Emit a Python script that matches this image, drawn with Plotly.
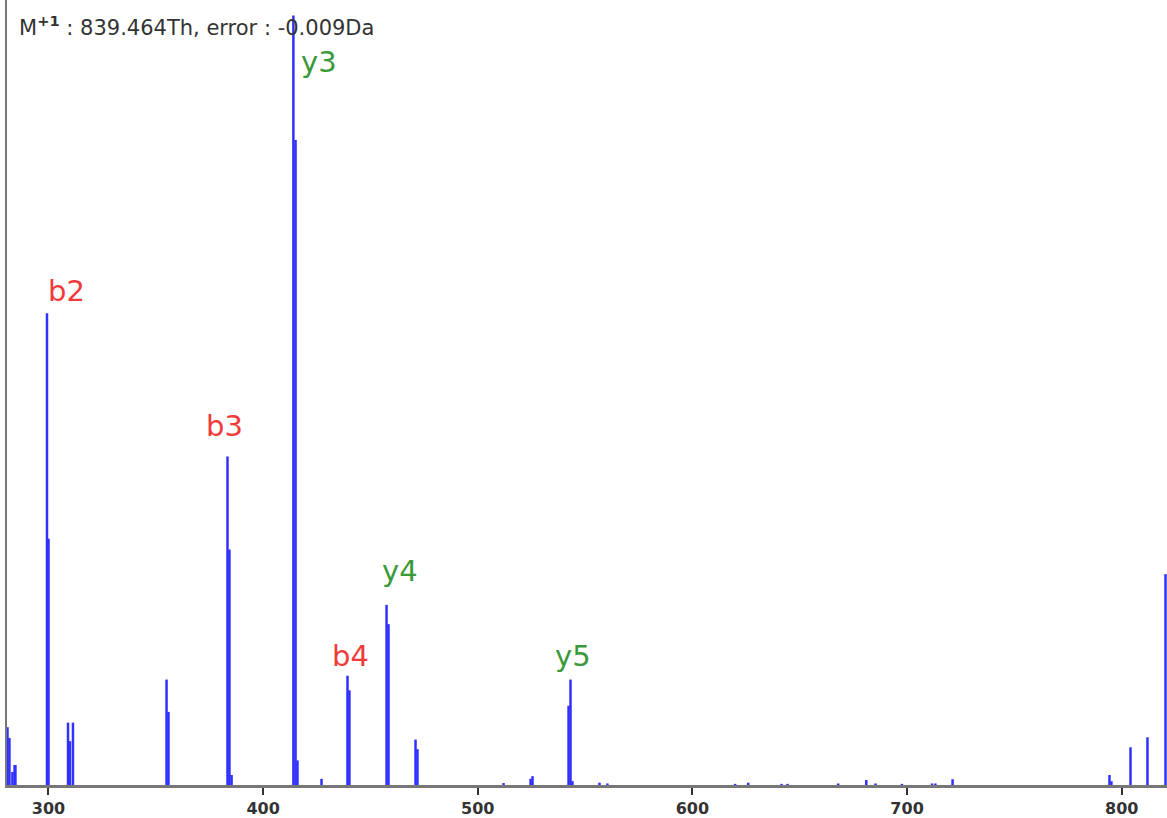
import plotly.graph_objects as go

# Peak list (m/z, relative intensity)
mz = [280.9, 281.8, 283.2, 284.2, 284.6, 299.3, 300.0, 309.1, 310.0, 311.4,
      355.0, 355.9, 383.4, 384.3, 385.3, 414.1, 415.1, 416.0, 427.2, 439.3,
      440.2, 457.5, 458.4, 471.0, 471.9, 512.0, 524.6, 525.5, 542.3, 543.2,
      544.1, 556.7, 560.4, 619.9, 626.0, 641.5, 644.3, 667.9, 681.0, 685.3,
      697.6, 711.6, 713.2, 721.2, 794.3, 795.2, 804.1, 812.0, 820.4]
intensity = [7.5, 6.1, 1.7, 2.6, 2.6, 61.3, 32.0, 8.1, 5.7, 8.1,
             13.7, 9.5, 42.7, 30.6, 1.3, 100.0, 83.8, 3.2, 0.8, 14.2,
             12.3, 23.4, 20.9, 5.9, 4.65, 0.25, 0.8, 1.15, 10.3, 13.7,
             0.5, 0.3, 0.2, 0.15, 0.3, 0.15, 0.15, 0.2, 0.65, 0.2,
             0.15, 0.2, 0.2, 0.75, 1.3, 0.5, 4.9, 6.2, 27.4]

# Fragment ion labels
ion_labels = ["b2", "b3", "y3", "b4", "y4", "y5"]
ion_x = [308.2, 382.2, 426.0, 440.5, 463.8, 544.4]
ion_y = [64.2, 46.6, 94.0, 16.8, 27.8, 16.8]
ion_type = ["b", "b", "y", "b", "y", "y"]

tick_vals = [300, 400, 500, 600, 700, 800]
tick_text = ["300", "400", "500", "600", "700", "800"]

header = "M<sup><b>+1</b></sup> : 839.464Th, error : -0.009Da"

xs, ys = [], []
for m, i in zip(mz, intensity):
    xs += [m, m, None]
    ys += [0, i, None]

fig = go.Figure()
fig.add_trace(go.Scatter(x=xs, y=ys, mode="lines",
                         line=dict(color="#3030ff", width=2.5),
                         hoverinfo="skip", showlegend=False))

colors = {"b": "#f23a3a", "y": "#3a9a3a"}
for lab, x, y, t in zip(ion_labels, ion_x, ion_y, ion_type):
    fig.add_annotation(x=x, y=y, xref="x", yref="y", text=lab, showarrow=False,
                       xanchor="center", yanchor="middle",
                       font=dict(family="DejaVu Sans", size=29, color=colors[t]))

fig.add_annotation(x=10 / 1160, y=1 - 26 / 790, xref="paper", yref="paper",
                   text=header, showarrow=False, xanchor="left", yanchor="middle",
                   font=dict(family="DejaVu Sans", size=21, color="#333333"))

fig.update_layout(
    width=1167, height=818,
    margin=dict(l=7, r=0, t=0, b=27),
    paper_bgcolor="white", plot_bgcolor="white",
    xaxis=dict(range=[280.67, 821.1], tickvals=tick_vals, ticktext=tick_text,
               showgrid=False, zeroline=False, showline=True, linecolor="#777777",
               linewidth=3, ticks="outside", ticklen=7, tickwidth=2,
               tickcolor="#333333",
               tickfont=dict(family="DejaVu Sans", size=16, color="#333333",
                             weight="bold")),
    yaxis=dict(range=[0, 102], showticklabels=False, showgrid=False,
               zeroline=False, showline=True, linecolor="#777777", linewidth=2,
               ticks=""),
)

fig.write_html("out.html")
